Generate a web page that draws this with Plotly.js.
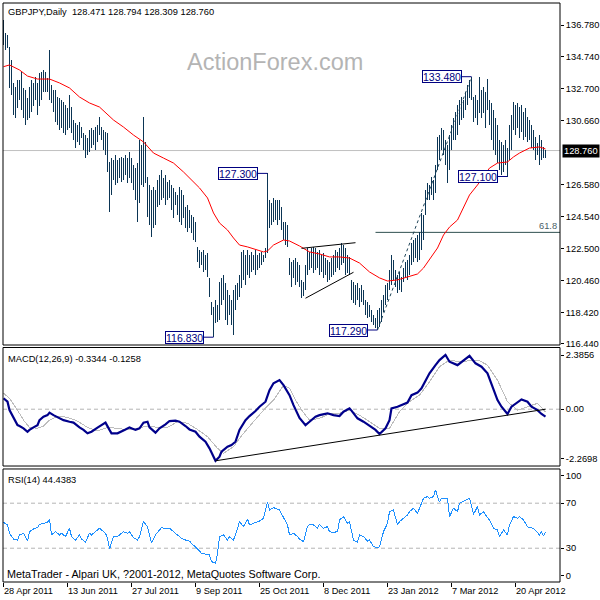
<!DOCTYPE html>
<html><head><meta charset="utf-8">
<script src="https://cdn.plot.ly/plotly-3.0.1.min.js"></script>
<style>html,body{margin:0;padding:0;background:#fff}#chart{width:600px;height:600px}
#chart .scatterlayer .trace:first-child path.js-line{shape-rendering:crispEdges}</style>
</head><body><div id="chart"></div>
<script>
// ---------- data ----------
const symbolTitle = 'GBPJPY,Daily\u00a0\u00a0128.471 128.794 128.309 128.760';
const macdTitle = 'MACD(12,26,9) -0.3344 -0.1258';
const rsiTitle = 'RSI(14) 44.4383';
const copyright = 'MetaTrader - Alpari UK, ?2001-2012, MetaQuotes Software Corp.';
const watermark = 'ActionForex.com';

const highs = [
137.10,136.27,136.14,135.38,134.55,133.08,132.82,133.27,133.27,133.78,
132.76,132.63,132.12,132.82,133.27,133.08,133.46,133.08,133.72,133.78,
133.91,133.78,133.40,135.18,132.95,132.63,132.63,132.18,132.12,131.99,
131.86,131.67,131.48,132.31,131.54,130.71,130.52,130.39,130.58,130.26,
129.88,129.75,129.56,130.07,130.20,130.07,130.26,130.39,130.90,130.26,
130.07,129.94,129.88,128.03,128.28,128.16,128.48,128.16,128.28,128.35,
128.28,128.48,128.28,128.67,128.28,127.84,127.65,127.97,129.43,129.11,
130.90,129.31,127.07,126.56,126.24,126.43,126.24,126.88,127.20,127.52,
127.01,127.20,126.75,126.88,126.56,126.37,126.11,125.92,126.43,126.24,
125.92,125.15,125.28,124.96,124.64,124.51,124.19,122.60,122.40,122.28,
122.40,122.09,122.21,120.62,119.08,118.76,119.21,118.89,120.36,120.62,
120.81,120.30,119.85,119.53,119.21,119.85,120.17,120.30,120.81,122.28,
122.40,122.09,122.40,122.09,122.28,122.09,122.40,122.09,122.21,122.28,
122.09,122.53,127.30,125.60,125.41,125.73,125.60,125.60,125.60,125.15,
124.19,124.19,124.00,121.89,121.64,121.77,121.89,121.64,121.45,120.49,
120.36,121.45,122.53,122.28,122.53,122.60,122.53,122.28,122.40,122.09,
122.21,121.89,121.77,121.64,121.89,122.09,122.40,122.28,122.53,122.85,
122.72,122.53,122.09,121.96,120.49,120.36,120.17,120.30,119.98,120.17,
119.85,119.21,119.08,118.89,118.57,118.25,118.06,118.57,118.70,119.21,
119.53,120.17,120.30,121.13,122.09,121.77,121.13,120.81,121.00,120.68,
121.25,121.64,121.77,122.09,122.85,123.04,123.17,123.36,123.56,124.77,
124.64,126.24,126.69,126.56,127.07,126.88,127.84,129.62,129.75,130.20,
130.07,129.43,129.11,129.75,130.39,130.84,131.22,131.67,131.99,132.18,
131.99,132.50,132.95,133.27,133.48,132.18,132.31,131.99,133.46,132.63,
132.82,132.50,133.33,131.99,131.80,131.35,130.84,130.39,129.43,129.31,
129.11,129.43,128.92,130.39,131.03,131.86,131.67,131.80,131.54,131.67,
131.22,131.48,130.90,130.71,130.39,130.07,129.62,129.24,129.75,129.43,
128.98,128.79];

const lows = [
135.50,135.18,135.31,132.76,132.31,131.03,130.84,131.48,131.99,131.35,
130.84,130.39,130.71,130.84,131.22,131.61,131.99,131.03,131.61,131.99,
132.50,132.50,132.50,131.99,131.80,131.22,130.58,130.39,130.07,130.20,
129.88,129.75,130.07,130.20,129.88,129.43,128.92,129.31,129.11,129.56,
128.79,128.28,128.48,128.67,128.92,129.11,128.79,129.31,129.75,129.43,
128.79,128.48,127.39,124.83,125.92,126.88,126.56,126.69,127.01,126.75,
126.88,127.20,126.69,127.01,126.69,126.24,125.60,124.19,125.41,126.56,
126.43,126.69,124.51,124.00,123.24,123.81,124.00,125.15,125.28,125.60,
125.73,125.28,125.60,125.73,124.96,124.45,125.28,124.64,124.19,124.00,
124.45,123.81,123.56,123.81,123.49,123.04,122.92,121.64,121.25,121.45,
121.00,121.13,120.68,119.40,118.25,116.83,117.74,117.80,117.93,118.89,
119.21,117.93,117.61,118.25,117.61,116.97,118.57,119.21,119.40,119.98,
120.49,120.17,120.81,120.62,121.00,121.13,120.81,121.13,121.25,121.45,
121.64,121.89,122.21,123.81,124.00,124.19,124.32,124.00,124.32,123.68,
123.04,122.72,122.60,120.81,120.04,120.62,120.17,120.36,120.04,119.34,
119.47,119.85,120.81,121.13,121.25,120.94,121.13,121.25,120.81,121.00,
120.62,120.81,120.36,120.49,120.68,120.81,121.00,121.25,121.13,121.45,
121.57,120.81,120.94,120.81,119.21,119.02,118.89,119.21,118.76,119.08,
118.89,118.25,118.06,118.12,117.80,117.61,117.42,117.29,117.49,117.80,
118.44,118.89,119.21,119.85,120.17,120.49,120.04,119.66,119.85,119.72,
120.36,120.62,120.49,120.81,121.45,121.64,121.89,121.64,121.77,122.40,
123.04,124.64,125.60,125.60,125.92,125.60,126.05,127.52,128.16,128.79,
128.48,127.84,126.69,127.52,128.79,129.43,129.43,129.75,130.39,130.71,
130.84,131.35,131.67,132.12,131.99,130.58,130.84,130.39,131.16,130.84,
131.16,130.20,131.35,130.39,129.43,128.79,128.48,127.97,127.52,127.20,
127.39,127.84,127.10,128.16,128.79,130.07,129.75,130.20,129.56,129.94,
129.43,129.62,129.31,129.43,128.92,128.79,128.16,128.48,127.84,128.16,
128.28,128.31];

const maIdx = [0,3,8,12,17,23,28,33,38,43,48,53,55,60,65,70,75,80,85,90,95,98,102,105,108,112,115,118,122,127,130,132,135,140,143,148,153,158,163,168,173,178,183,188,192,197,202,207,210,213,217,220,223,227,230,233,237,240,243,247,252,255,258,263,268,271];
const maVal = [134.12,134.23,133.91,133.52,133.33,133.33,133.08,132.76,132.18,131.80,131.54,130.90,130.71,130.26,129.75,129.31,128.60,128.28,127.96,127.39,126.75,126.37,125.73,124.77,124.13,123.68,123.17,122.72,122.60,122.40,122.28,122.34,122.72,123.04,122.98,122.66,122.28,122.15,121.96,121.96,121.89,121.57,121.00,120.62,120.42,120.49,120.68,120.87,121.25,121.77,122.53,123.36,123.87,124.32,125.15,125.92,126.56,127.07,127.64,127.96,128.03,128.35,128.60,128.92,128.99,128.86];

const macdIdx = [0,2,3,5,7,8,10,12,13,15,17,18,20,22,23,25,28,30,33,35,38,40,42,44,47,49,51,53,54,57,59,61,63,64,66,68,70,72,73,76,78,81,83,86,88,91,93,96,98,101,103,106,108,109,112,114,116,118,121,123,126,128,131,133,135,138,140,143,145,148,151,153,156,158,162,165,168,170,173,174,177,180,183,186,188,191,193,194,197,199,202,204,207,209,211,213,216,218,221,223,227,230,233,236,239,242,244,247,249,252,254,257,259,262,264,267,269,271];
const macdVal = [0.48,0.33,-0.04,-0.40,-0.70,-0.74,-0.84,-0.99,-0.91,-0.80,-0.70,-0.48,-0.33,-0.26,-0.15,-0.26,-0.40,-0.48,-0.55,-0.59,-0.80,-0.91,-1.06,-0.99,-0.81,-0.70,-0.59,-0.91,-1.06,-1.06,-0.99,-0.89,-0.80,-0.84,-0.91,-0.84,-0.59,-0.55,-0.80,-1.03,-0.84,-0.67,-0.52,-0.50,-0.55,-0.74,-0.89,-0.99,-1.21,-1.43,-1.72,-2.27,-2.09,-1.87,-1.65,-1.58,-1.43,-0.91,-0.48,-0.30,-0.08,0.11,0.33,0.84,1.14,1.28,1.06,0.62,0.18,-0.38,-0.70,-0.55,-0.33,-0.26,-0.18,-0.26,-0.30,-0.11,0.04,-0.06,-0.40,-0.55,-0.74,-0.91,-1.09,-0.84,-0.48,0.04,0.11,0.18,0.29,0.62,0.73,0.92,1.28,1.58,1.94,2.16,2.39,2.09,1.94,2.16,2.35,2.02,1.87,1.58,1.14,0.40,0.11,-0.21,0.11,0.29,0.43,0.33,0.11,-0.04,-0.21,-0.33];

const sigIdx = [0,3,7,10,13,17,20,23,27,32,37,42,47,52,57,62,67,72,77,82,87,92,97,102,107,110,115,120,125,130,135,140,143,147,150,153,158,163,168,173,178,183,188,193,198,203,208,213,218,223,228,233,238,242,247,252,257,262,267,271];
const sigVal = [0.70,0.48,-0.04,-0.48,-0.80,-0.84,-0.74,-0.48,-0.30,-0.36,-0.52,-0.80,-0.95,-0.80,-0.84,-0.91,-0.84,-0.74,-0.80,-0.80,-0.55,-0.62,-0.89,-1.21,-1.72,-1.94,-1.65,-1.06,-0.55,-0.04,0.40,1.06,0.92,0.25,-0.15,-0.48,-0.40,-0.21,-0.18,-0.04,-0.26,-0.55,-0.84,-0.84,-0.11,0.33,0.62,1.21,1.87,2.16,2.09,2.13,2.13,1.94,1.28,0.33,-0.04,0.11,0.26,-0.13];

const rsiIdx = [0,2,3,5,7,8,10,12,13,15,17,18,20,22,23,24,26,28,29,31,33,34,36,38,39,41,43,44,46,48,51,52,53,55,57,58,60,62,63,65,67,68,70,72,73,74,76,78,79,81,83,84,86,88,89,91,93,94,96,98,99,101,103,104,106,107,108,110,112,113,115,117,118,120,122,123,125,128,130,132,133,135,138,140,142,143,145,147,148,150,152,153,155,157,158,160,162,163,165,167,168,170,172,173,175,177,178,180,182,183,185,187,188,190,192,193,195,197,198,200,202,203,205,207,208,210,212,213,215,216,218,219,222,223,225,227,228,231,233,235,237,238,240,242,243,245,247,248,250,252,253,255,257,258,260,262,263,265,267,268,269,270,271];
const rsiVal = [53.0,50.7,43.3,38.2,37.3,41.8,43.3,36.4,44.7,47.1,48.3,51.3,52.1,53.0,56.0,41.8,44.7,41.8,43.3,40.3,47.7,40.3,37.3,41.8,38.2,35.3,43.3,41.8,44.7,47.7,43.3,38.8,29.3,40.3,40.3,41.8,44.7,43.3,44.7,39.4,37.3,40.3,53.6,49.2,41.8,34.4,41.8,46.2,48.3,47.1,47.7,46.2,43.3,40.3,38.8,37.3,36.4,34.4,31.4,27.6,25.5,24.6,24.0,18.1,16.6,25.5,40.3,41.8,37.3,40.3,37.3,47.1,53.6,49.2,56.0,50.7,52.1,54.2,56.6,71.4,64.0,66.1,64.0,56.6,50.7,41.8,43.3,40.3,38.2,35.9,49.2,51.3,50.7,47.7,51.3,47.7,49.2,44.7,44.1,44.7,55.1,58.1,52.1,53.6,37.3,35.3,41.8,40.3,36.4,37.3,31.4,30.5,31.4,44.7,52.1,62.5,64.0,50.7,53.6,56.6,59.6,62.5,65.5,61.0,65.5,74.4,75.9,74.4,75.9,81.8,70.8,74.4,74.4,58.1,65.5,62.5,69.9,72.9,74.4,60.1,67.0,59.6,62.5,57.2,55.1,47.7,46.2,40.3,46.2,41.8,50.7,58.1,56.6,58.1,55.1,49.2,48.3,47.7,43.3,41.8,44.7,41.2,44.4];

// drawn objects on the price chart
const triUpperIdx = [149, 176], triUpperPrice = [122.51, 122.87];
const triLowerIdx = [151, 175], triLowerPrice = [119.32, 120.98];
const trendIdx = [187, 234], trendPrice = [117.29, 133.48];
const macdTrendIdx = [106, 271], macdTrendVal = [-2.27, 0.0];
const fibStartIdx = 186, fibLevel = 123.53, fibText = '61.8';
const lastClose = 128.76, lastCloseText = '128.760';
const labelIdx = [234, 132, 105, 187, 252];
const labelPrice = [133.48, 127.30, 116.83, 117.29, 127.10];
const labelText = ['133.480', '127.300', '116.830', '117.290', '127.100'];

// axis ticks
const priceTicks = [136.78, 134.74, 132.70, 130.66, 126.58, 124.54, 122.50, 120.46, 118.42, 116.44];
const priceTickText = ['136.780','134.740','132.700','130.660','126.580','124.540','122.500','120.460','118.420','116.440'];
const macdTicks = [2.3856, 0, -2.16];
const macdTickText = ['2.3856', '0.00', '-2.2698'];
const rsiTicks = [94.5, 70, 30, 5.6];
const rsiTickText = ['100', '70', '30', '0'];
const rsiLevels = [30, 70];
const dateIdx = [0, 32, 64, 96, 128, 160, 192, 224, 256];
const dateText = ['28 Apr 2011','13 Jun 2011','27 Jul 2011','9 Sep 2011','25 Oct 2011','8 Dec 2011','23 Jan 2012','7 Mar 2012','20 Apr 2012'];

// ---------- build ----------
const FONT = 'Liberation Sans, Arial, sans-serif';
const xRange = [-0.25, 278.25];
const barX = [], barY = [];
highs.forEach((h, i) => { barX.push(i, i, null); barY.push(lows[i], h, null); });

const traces = [
  {type:'scatter', mode:'lines', x:barX, y:barY, xaxis:'x', yaxis:'y', line:{color:'#0b3555', width:1}, hoverinfo:'skip'},
  {type:'scatter', mode:'lines', x:maIdx, y:maVal, xaxis:'x', yaxis:'y', line:{color:'#ff0000', width:1}, hoverinfo:'skip'},
  {type:'scatter', mode:'lines', x:triUpperIdx, y:triUpperPrice, xaxis:'x', yaxis:'y', line:{color:'#000', width:1}},
  {type:'scatter', mode:'lines', x:triLowerIdx, y:triLowerPrice, xaxis:'x', yaxis:'y', line:{color:'#000', width:1}},
  {type:'scatter', mode:'lines', x:trendIdx, y:trendPrice, xaxis:'x', yaxis:'y', line:{color:'#1f4458', width:1, dash:'dot'}},
  {type:'scatter', mode:'lines', x:sigIdx, y:sigVal, xaxis:'x', yaxis:'y2', line:{color:'#bdbdbd', width:1}},
  {type:'scatter', mode:'lines', x:macdIdx, y:macdVal, xaxis:'x', yaxis:'y2', line:{color:'#00008b', width:2.2}},
  {type:'scatter', mode:'lines', x:macdTrendIdx, y:macdTrendVal, xaxis:'x', yaxis:'y2', line:{color:'#000', width:1}},
  {type:'scatter', mode:'lines', x:rsiIdx, y:rsiVal, xaxis:'x', yaxis:'y3', line:{color:'#1e90ff', width:1}}
];

const shapes = [
  {type:'line', xref:'paper', x0:0, x1:1, yref:'y', y0:lastClose, y1:lastClose, line:{color:'#c0c0c0', width:1}, layer:'below'},
  {type:'line', xref:'x', x0:fibStartIdx, x1:xRange[1], yref:'y', y0:fibLevel, y1:fibLevel, line:{color:'#2f4f4f', width:1}, layer:'below'},
  {type:'line', xref:'paper', x0:0, x1:1, yref:'y2', y0:0, y1:0, line:{color:'#b4b4b4', width:1, dash:'4px,3px'}, layer:'below'}
];
rsiLevels.forEach(v => shapes.push({type:'line', xref:'paper', x0:0, x1:1, yref:'y3', y0:v, y1:v, line:{color:'#b4b4b4', width:1, dash:'4px,3px'}, layer:'below'}));
['y domain','y2 domain','y3 domain'].forEach(r => shapes.push({type:'rect', xref:'paper', x0:0, x1:1, yref:r, y0:0, y1:1, line:{color:'#000', width:1}, fillcolor:'rgba(0,0,0,0)'}));
labelIdx.forEach((xi, k) => shapes.push({type:'line', xref:'x', yref:'y', x0:xi-5, x1:xi, y0:labelPrice[k], y1:labelPrice[k], line:{color:'#000080', width:1}}));

const annotations = [
  {xref:'paper', yref:'y domain', x:0, y:1, xanchor:'left', yanchor:'top', xshift:3, yshift:-2, text:symbolTitle, showarrow:false, font:{family:FONT, size:9.3, color:'#000'}},
  {xref:'paper', yref:'y2 domain', x:0, y:1, xanchor:'left', yanchor:'top', xshift:3, yshift:-4, text:macdTitle, showarrow:false, font:{family:FONT, size:9.3, color:'#000'}},
  {xref:'paper', yref:'y3 domain', x:0, y:1, xanchor:'left', yanchor:'top', xshift:3, yshift:-4, text:rsiTitle, showarrow:false, font:{family:FONT, size:9.3, color:'#000'}},
  {xref:'paper', yref:'y3 domain', x:0, y:0, xanchor:'left', yanchor:'bottom', xshift:2, yshift:0, text:copyright, showarrow:false, font:{family:FONT, size:10.8, color:'#000'}},
  {xref:'paper', yref:'y domain', x:0.488, y:0.8275, xanchor:'center', yanchor:'middle', text:watermark, showarrow:false, font:{family:FONT, size:23.5, color:'#b4b4b4'}},
  {xref:'paper', yref:'y', x:1, y:lastClose, xanchor:'left', yanchor:'middle', xshift:2, text:lastCloseText, showarrow:false, bgcolor:'#000', borderpad:1, font:{family:FONT, size:9.3, color:'#fff'}},
  {xref:'paper', yref:'y', x:1, y:fibLevel, xanchor:'right', yanchor:'bottom', xshift:-1, yshift:-1, text:fibText, showarrow:false, font:{family:FONT, size:9.3, color:'#4a6066'}}
];
labelIdx.forEach((xi, k) => annotations.push({xref:'x', yref:'y', x:xi-5, y:labelPrice[k], xanchor:'right', yanchor:'middle', text:labelText[k], showarrow:false, bgcolor:'#fff', bordercolor:'#000080', borderwidth:1, borderpad:0, height:11, font:{family:FONT, size:10.5, color:'#000080'}}));
dateIdx.forEach((xi, k) => annotations.push({xref:'x', yref:'paper', x:xi, y:0, xanchor:'left', yanchor:'top', xshift:-2, yshift:-2, text:dateText[k], showarrow:false, font:{family:FONT, size:9.2, color:'#000'}}));

const axisY = {side:'right', anchor:'x', showgrid:false, zeroline:false, showline:false, ticks:'outside', ticklen:3, tickcolor:'#000', tickfont:{family:FONT, size:9.3, color:'#000'}};
const layout = {
  width:600, height:600,
  margin:{l:3, r:40, t:3, b:18, pad:0},
  paper_bgcolor:'#fff', plot_bgcolor:'#fff',
  showlegend:false, hovermode:false,
  xaxis:{range:xRange, anchor:'y3', showgrid:false, zeroline:false, showline:false, tickmode:'array', tickvals:dateIdx, showticklabels:false, ticks:'outside', ticklen:4, tickcolor:'#000'},
  yaxis:Object.assign({}, axisY, {domain:[0.4093, 1], range:[116.33, 138.19], tickmode:'array', tickvals:priceTicks, ticktext:priceTickText}),
  yaxis2:Object.assign({}, axisY, {domain:[0.2003, 0.4050], range:[-2.50, 2.716], tickmode:'array', tickvals:macdTicks, ticktext:macdTickText}),
  yaxis3:Object.assign({}, axisY, {domain:[0, 0.1952], range:[0, 100.4], tickmode:'array', tickvals:rsiTicks, ticktext:rsiTickText}),
  shapes:shapes, annotations:annotations
};
Plotly.newPlot('chart', traces, layout, {staticPlot:true, displayModeBar:false});
</script></body></html>
